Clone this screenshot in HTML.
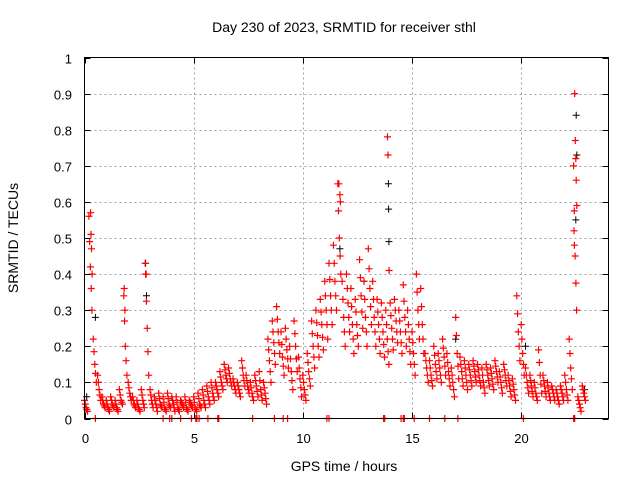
<!DOCTYPE html>
<html><head><meta charset="utf-8"><style>
html,body{margin:0;padding:0;background:#fff;}
svg{display:block;font-family:"Liberation Sans",sans-serif;}
</style></head><body>
<svg id="chart" width="640" height="480" viewBox="0 0 640 480" xmlns="http://www.w3.org/2000/svg">
<rect x="0" y="0" width="640" height="480" fill="#fff"/>
<text x="344" y="32" font-size="14" text-anchor="middle">Day 230 of 2023, SRMTID for receiver sthl</text>
<text x="344" y="471" font-size="14" text-anchor="middle">GPS time / hours</text>
<text x="18" y="238" font-size="14" text-anchor="middle" transform="rotate(-90 18 238)">SRMTID / TECUs</text>
<g id="grid"></g>
<g id="marks"></g>
<rect x="84.5" y="57.5" width="524" height="361" fill="none" stroke="#000" stroke-width="1"/>
<g id="ticks"></g>
</svg>
<script>
const xTicks = [0,5,10,15,20];
const yTicks = [0,0.1,0.2,0.3,0.4,0.5,0.6,0.7,0.8,0.9,1];
const yTickLabels = ["0","0.1","0.2","0.3","0.4","0.5","0.6","0.7","0.8","0.9","1"];
const binStart = 0, binStep = 0.2;
const upperVals = [0.05,0.56,0.22,0.12,0.06,0.05,0.06,0.05,0.08,0.34,
0.10,0.06,0.05,0.08,0.40,0.08,0.06,0.07,0.06,0.07,
0.06,0.06,0.05,0.06,0.05,0.06,0.07,0.08,0.09,0.10,
0.10,0.13,0.15,0.14,0.11,0.10,0.16,0.12,0.10,0.12,
0.13,0.10,0.22,0.27,0.31,0.24,0.25,0.20,0.27,0.17,
0.12,0.18,0.27,0.30,0.33,0.38,0.43,0.48,0.65,0.38,
0.40,0.36,0.33,0.44,0.38,0.47,0.38,0.33,0.32,0.30,
0.32,0.33,0.30,0.37,0.30,0.24,0.40,0.36,0.18,0.16,
0.20,0.18,0.22,0.18,0.14,0.28,0.17,0.16,0.15,0.16,
0.15,0.14,0.15,0.14,0.16,0.13,0.15,0.12,0.11,0.34,
0.26,0.14,0.12,0.10,0.19,0.12,0.10,0.09,0.08,0.09,
0.12,0.22,0.70,0.06,0.09];
const midVals = [0.03,0.42,0.15,0.08,0.04,0.03,0.04,0.03,0.05,0.20,
0.07,0.04,0.03,0.05,0.25,0.05,0.04,0.04,0.03,0.04,
0.04,0.03,0.04,0.03,0.04,0.03,0.04,0.05,0.06,0.07,
0.08,0.10,0.12,0.11,0.09,0.08,0.12,0.09,0.07,0.09,
0.08,0.07,0.16,0.21,0.24,0.17,0.19,0.13,0.20,0.11,
0.08,0.13,0.20,0.23,0.26,0.30,0.34,0.38,0.50,0.28,
0.32,0.26,0.26,0.34,0.28,0.36,0.28,0.26,0.24,0.22,
0.25,0.27,0.24,0.28,0.22,0.18,0.30,0.26,0.14,0.12,
0.15,0.14,0.17,0.13,0.10,0.18,0.13,0.12,0.12,0.13,
0.12,0.10,0.12,0.11,0.13,0.10,0.12,0.09,0.08,0.24,
0.18,0.10,0.09,0.07,0.12,0.09,0.07,0.07,0.06,0.07,
0.08,0.14,0.45,0.04,0.07];
const lowerVals = [0.02,0.30,0.10,0.05,0.03,0.02,0.03,0.02,0.04,0.12,
0.05,0.03,0.02,0.03,0.12,0.03,0.02,0.03,0.02,0.03,
0.02,0.02,0.03,0.02,0.03,0.02,0.03,0.03,0.04,0.05,
0.06,0.08,0.10,0.09,0.07,0.06,0.09,0.07,0.05,0.06,
0.05,0.04,0.10,0.15,0.18,0.12,0.14,0.08,0.13,0.06,
0.05,0.09,0.14,0.17,0.19,0.22,0.26,0.30,0.40,0.20,
0.24,0.18,0.20,0.25,0.20,0.26,0.20,0.18,0.17,0.15,
0.19,0.21,0.18,0.20,0.15,0.12,0.22,0.18,0.10,0.09,
0.11,0.10,0.12,0.09,0.06,0.11,0.09,0.08,0.09,0.10,
0.09,0.07,0.09,0.08,0.10,0.07,0.09,0.06,0.05,0.16,
0.12,0.07,0.06,0.05,0.07,0.06,0.05,0.05,0.04,0.05,
0.05,0.08,0.30,0.02,0.05];
const spikeTimes = [0.28,0.30,0.32,0.35,1.82,1.85,2.78,2.82,11.65,11.70,11.72,13.88,13.90,13.95,22.45,22.48,22.50,22.52,22.55,22.42,22.44];
const spikeVals = [0.57,0.51,0.47,0.40,0.36,0.30,0.43,0.40,0.65,0.62,0.60,0.78,0.73,0.41,0.90,0.77,0.72,0.66,0.59,0.52,0.48];
const zeroTimes = [0.5,3.6,3.9,4.0,4.4,4.9,5.1,5.15,5.25,5.65,6.1,6.15,7.7,8.7,9.1,9.3,11.1,11.2,13.7,13.75,14.5,14.6,14.65,15.1,15.8,16.5,17.1,20.1,22.4,22.45];
const blackTimes = [2.80,2.82,2.84,13.92,13.93,13.94,22.52,22.55,22.50,11.70,0.50,12.80,17.00,20.20,0.10,22.90];
const blackVals = [0.43,0.40,0.34,0.65,0.58,0.49,0.84,0.73,0.55,0.47,0.28,0.38,0.22,0.20,0.06,0.08];

const X0=84.5, X1=608.5, Y0=418.5, Y1=57.5, XMAX=24;
function xs(t){return X0+(t/XMAX)*(X1-X0);}
function ys(v){return Y0-v*(Y0-Y1);}
const NS="http://www.w3.org/2000/svg";
const grid=document.getElementById('grid'), ticks=document.getElementById('ticks'), marks=document.getElementById('marks');
function line(g,x1,y1,x2,y2,st,dash){const l=document.createElementNS(NS,'line');l.setAttribute('x1',x1);l.setAttribute('y1',y1);l.setAttribute('x2',x2);l.setAttribute('y2',y2);l.setAttribute('stroke',st);if(dash)l.setAttribute('stroke-dasharray',dash);g.appendChild(l);return l;}
yTicks.forEach((v,i)=>{const y=Math.round(ys(v))+0.5;
 if(v>0&&v<1){const g=line(grid,X0,y,X1,y,'#a0a0a0','2,3');
 
 }
 line(ticks,X0,y,X0+6,y,'#000');line(ticks,X1-6,y,X1,y,'#000');
 const t=document.createElementNS(NS,'text');t.setAttribute('x',72);t.setAttribute('y',y+5);t.setAttribute('font-size','13');t.setAttribute('text-anchor','end');t.textContent=yTickLabels[i];
 
 
 ticks.appendChild(t);});
xTicks.forEach(v=>{const x=Math.round(xs(v))+0.5;
 if(v>0){const g=line(grid,x,Y1,x,Y0,'#a0a0a0','2,3');
 
 }
 line(ticks,x,Y0,x,Y0-6,'#000');line(ticks,x,Y1,x,Y1+6,'#000');
 const t=document.createElementNS(NS,'text');t.setAttribute('x',x);t.setAttribute('y',443);t.setAttribute('font-size','13');t.setAttribute('text-anchor','middle');t.textContent=String(v);
 
 
 ticks.appendChild(t);});
let redD='', blackD='';
function plus(t,v){const x=xs(t),y=ys(v);return 'M'+(x-3.5).toFixed(1)+' '+y.toFixed(1)+'h7M'+x.toFixed(1)+' '+(y-3.5).toFixed(1)+'v7';}
for(let i=0;i<upperVals.length;i++){const t=binStart+i*binStep;
 redD+=plus(t,upperVals[i])+plus(t+0.07,midVals[i])+plus(t+0.14,lowerVals[i]);
 redD+=plus(t+0.035,(upperVals[i]+midVals[i])/2)+plus(t+0.105,(midVals[i]+lowerVals[i])/2);}
spikeTimes.forEach((t,i)=>{redD+=plus(t,spikeVals[i]);});
zeroTimes.forEach(t=>{redD+=plus(t,0);});
blackTimes.forEach((t,i)=>{blackD+=plus(t,blackVals[i]);});
const pb=document.createElementNS(NS,'path');pb.setAttribute('d',blackD);pb.setAttribute('stroke','#000');pb.setAttribute('fill','none');


marks.appendChild(pb);
const pr=document.createElementNS(NS,'path');pr.setAttribute('d',redD);pr.setAttribute('stroke','#ff0000');pr.setAttribute('stroke-width','1.2');pr.setAttribute('fill','none');


marks.appendChild(pr);
const pb2=document.createElementNS(NS,'path');pb2.setAttribute('d',blackD);pb2.setAttribute('stroke','#000');pb2.setAttribute('fill','none');


</script>
</body></html>
